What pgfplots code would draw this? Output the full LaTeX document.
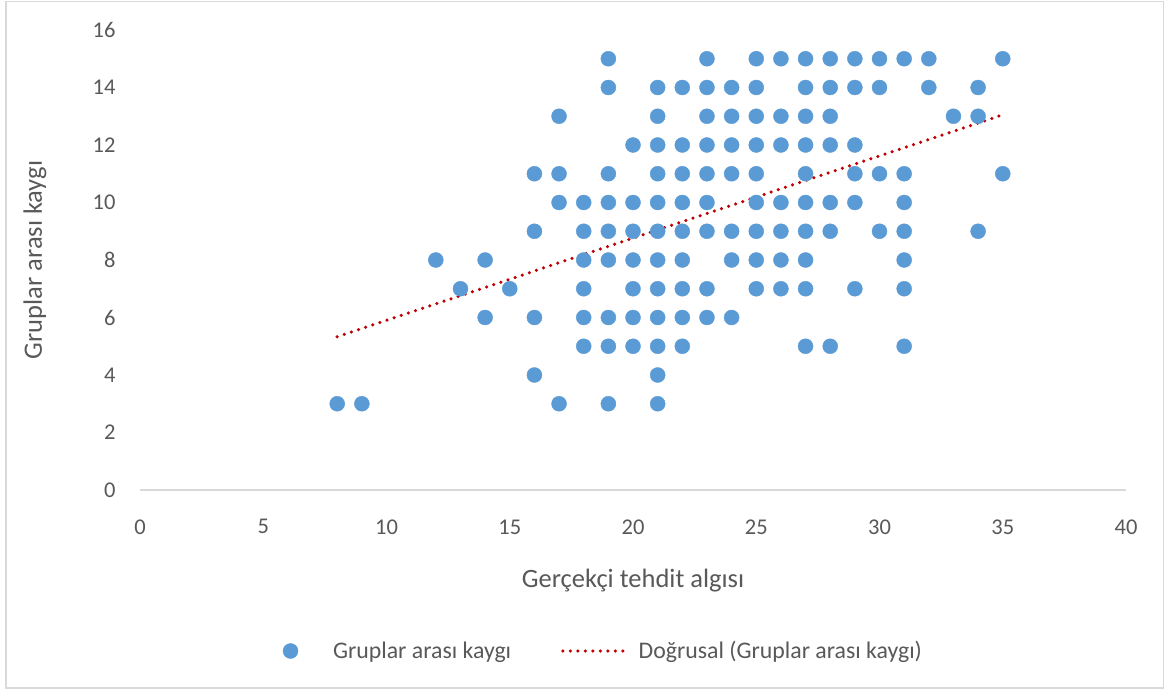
\documentclass[border=0pt]{standalone}
\usepackage{pgfplots}
\pgfplotsset{compat=1.18}
\usepackage{fontspec}
\setmainfont{Carlito}
\definecolor{dotblue}{HTML}{5B9BD5}
\definecolor{trendred}{HTML}{C00000}
\definecolor{txtgray}{HTML}{595959}
\definecolor{axgray}{HTML}{D9D9D9}
\pgfplotsset{
  dotlegend/.style={legend image code/.code={\draw[##1] plot coordinates {(0pt,0pt)};}},
  linelegend/.style={legend image code/.code={\draw[##1] (0pt,0pt) -- (65pt,0pt);}},
}
\begin{document}
\begin{tikzpicture}
\useasboundingbox (0pt,0pt) rectangle (1164pt,689pt);
\fill[white] (0pt,0pt) rectangle (1164pt,689pt);
\draw[axgray, line width=1.5pt] (6pt,1pt) rectangle (1163.5pt,687.5pt);
\begin{axis}[
  at={(140pt,199pt)}, anchor=south west,
  scale only axis, width=986pt, height=460pt,
  xmin=0, xmax=40, ymin=0, ymax=16,
  xtick={0,5,...,40}, ytick={0,2,...,16},
  axis x line*=bottom, axis y line*=left,
  x axis line style={axgray, line width=1.5pt, -},
  y axis line style={draw=none},
  major tick length=0pt,
  tick style={draw=none},
  /pgf/number format/assume math mode=true,
  ticklabel style={font=\fontsize{22.5}{26}\selectfont, text=txtgray},
  xticklabel style={yshift=-26pt},
  yticklabel style={xshift=-21pt},
  xlabel={Gerçekçi tehdit algısı},
  ylabel={Gruplar arası kaygı},
  label style={font=\fontsize{26.5}{31}\selectfont, text=txtgray},
  xlabel style={at={([yshift=-97pt]rel axis cs:0.5,0)}, anchor=base},
  ylabel style={at={([xshift=-105pt]rel axis cs:0,0.5)}, anchor=center},
  legend style={at={([xshift=-29.5pt,yshift=-161pt]rel axis cs:0.5,0)}, anchor=center,
    draw=none, fill=none, font=\fontsize{23.8}{28}\selectfont, text=txtgray,
    /tikz/column 1/.style={column sep=33pt},
    /tikz/column 2/.style={column sep=48pt},
    /tikz/column 3/.style={column sep=7pt}},
  legend columns=2,
]
\addplot[only marks, mark=*, mark size=7.5pt, mark options={draw=dotblue, fill=dotblue}, dotlegend]
table[row sep=\\] {
x y\\
19 15\\ 23 15\\ 25 15\\ 26 15\\ 27 15\\ 28 15\\ 29 15\\ 30 15\\ 31 15\\ 32 15\\ 35 15\\
19 14\\ 21 14\\ 22 14\\ 23 14\\ 24 14\\ 25 14\\ 27 14\\ 28 14\\ 29 14\\ 30 14\\ 32 14\\ 34 14\\
17 13\\ 21 13\\ 23 13\\ 24 13\\ 25 13\\ 26 13\\ 27 13\\ 28 13\\ 33 13\\ 34 13\\
20 12\\ 21 12\\ 22 12\\ 23 12\\ 24 12\\ 25 12\\ 26 12\\ 27 12\\ 28 12\\ 29 12\\
16 11\\ 17 11\\ 19 11\\ 21 11\\ 22 11\\ 23 11\\ 24 11\\ 25 11\\ 27 11\\ 29 11\\ 30 11\\ 31 11\\ 35 11\\
17 10\\ 18 10\\ 19 10\\ 20 10\\ 21 10\\ 22 10\\ 23 10\\ 25 10\\ 26 10\\ 27 10\\ 28 10\\ 29 10\\ 31 10\\
16 9\\ 18 9\\ 19 9\\ 20 9\\ 21 9\\ 22 9\\ 23 9\\ 24 9\\ 25 9\\ 26 9\\ 27 9\\ 28 9\\ 30 9\\ 31 9\\ 34 9\\
12 8\\ 14 8\\ 18 8\\ 19 8\\ 20 8\\ 21 8\\ 22 8\\ 24 8\\ 25 8\\ 26 8\\ 27 8\\ 31 8\\
13 7\\ 15 7\\ 18 7\\ 20 7\\ 21 7\\ 22 7\\ 23 7\\ 25 7\\ 26 7\\ 27 7\\ 29 7\\ 31 7\\
14 6\\ 16 6\\ 18 6\\ 19 6\\ 20 6\\ 21 6\\ 22 6\\ 23 6\\ 24 6\\
18 5\\ 19 5\\ 20 5\\ 21 5\\ 22 5\\ 27 5\\ 28 5\\ 31 5\\
16 4\\ 21 4\\
8 3\\ 9 3\\ 17 3\\ 19 3\\ 21 3\\
};
\addlegendentry{Gruplar arası kaygı}
\addplot[trendred, no marks, line width=3.5pt, line cap=round, dash pattern=on 0pt off 7.5pt, linelegend]
coordinates {(8,5.33) (35,13.05)};
\addlegendentry{Doğrusal (Gruplar arası kaygı)}
\end{axis}
\end{tikzpicture}
\end{document}
